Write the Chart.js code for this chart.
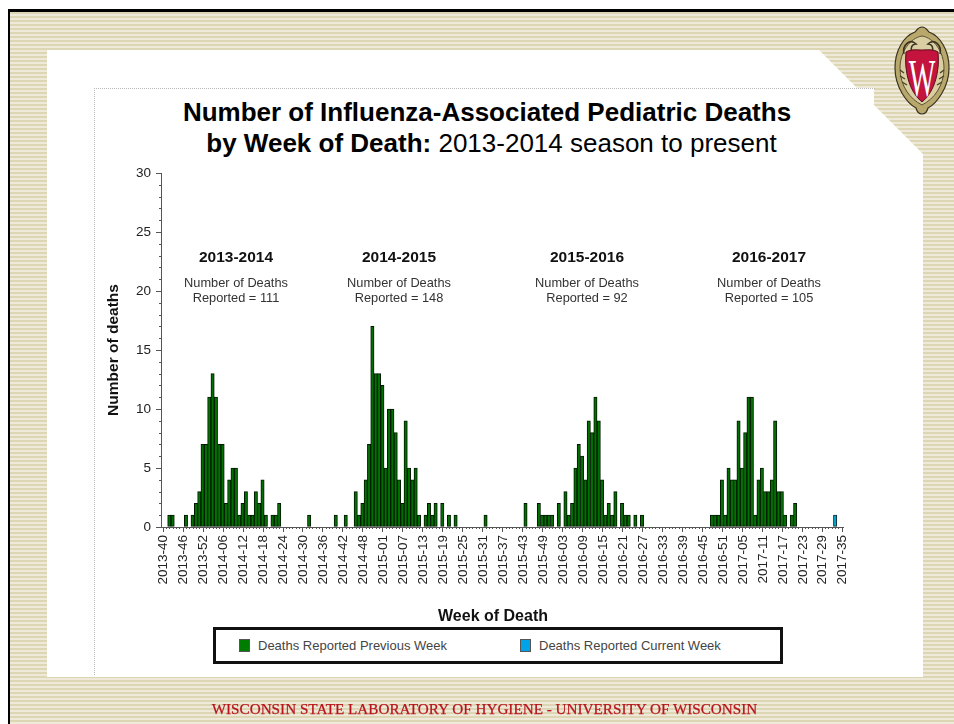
<!DOCTYPE html>
<html>
<head>
<meta charset="utf-8">
<style>
html,body{margin:0;padding:0;background:#fff;}
body{width:954px;height:724px;position:relative;overflow:hidden;font-family:"Liberation Sans",Arial,sans-serif;}
#page{position:absolute;left:0;top:0;width:954px;height:724px;filter:blur(0.4px);}
#slide{position:absolute;left:8px;top:9px;width:946px;height:715px;border-left:2px solid #000;border-top:3px solid #000;box-sizing:border-box;
 background:repeating-linear-gradient(180deg,#dcd6b4 0,#dcd6b4 2px,#eee9d8 2px,#eee9d8 4px);}
#panel{position:absolute;left:47px;top:50px;width:876px;height:627px;background:#fff;
 clip-path:polygon(0 0,772px 0,810px 38px,827px 38px,827px 55px,876px 104px,876px 627px,0 627px);}
#frame{position:absolute;left:94px;top:88px;width:780px;height:586px;border-left:1px dotted #b8b8b8;border-top:1px dotted #b8b8b8;}
#chartBox{position:absolute;left:94px;top:88px;width:772px;height:534px;}
#title{position:absolute;left:94px;top:97px;width:786px;text-align:center;font-size:26px;line-height:31px;color:#000;font-weight:bold;}
#title div{position:relative;left:4.5px;}
#title span{font-weight:normal;}
#legend{position:absolute;left:213px;top:627px;width:570px;height:37px;box-sizing:border-box;border:3px solid #111;background:#fff;font-size:13px;color:#444;}
#legend div{position:absolute;top:8px;white-space:nowrap;line-height:15px;}
#legend i{position:absolute;left:-19px;top:1px;width:11px;height:13px;border:1px solid #555;box-sizing:border-box;}
#footer{position:absolute;left:0;top:700px;width:969px;text-align:center;font-family:"Liberation Serif",serif;font-size:15.2px;line-height:18px;color:#b8121c;-webkit-text-stroke:0.25px #b8121c;}
#logo{position:absolute;left:893px;top:26px;}
</style>
</head>
<body>
<div id="page">
<div id="slide"></div>
<div id="panel"></div>
<div id="frame"></div>
<svg id="logo" width="60" height="90" viewBox="0 0 60 90">
 <path d="M29 1 C33 1 34 4 36 6 C47 10 56 24 56 42 C56 62 43 78 35 82 C34 86 32 88 29 88 C26 88 24 86 23 82 C15 78 2 62 2 42 C2 24 11 10 22 6 C24 4 25 1 29 1Z" fill="#b9a86c" stroke="#3b3320" stroke-width="1.2"/>
 <path d="M29 10 C41 12 51 26 51 42 C51 60 41 73 29 79 C17 73 7 60 7 42 C7 26 17 12 29 10Z" fill="#d9cfa2" stroke="#5b5030" stroke-width="1"/>
 <path d="M11 28 C9 19 17 12 23 18 C19 18 17 22 19 26 M47 28 C49 19 41 12 35 18 C39 18 41 22 39 26" fill="none" stroke="#3b3320" stroke-width="1.6"/>
 <path d="M7 44 L11 47 M7 50 L12 53 M9 56 L14 59 M51 44 L47 47 M51 50 L46 53 M49 56 L44 59" fill="none" stroke="#4a4228" stroke-width="1.4"/>
 <path d="M29 24 C34 24 40 23 45 26 C47 44 42 66 29 76 C16 66 11 44 13 26 C18 23 24 24 29 24Z" fill="#c4133c" stroke="#5b1020" stroke-width="1"/>
 <text transform="translate(29,70) scale(.74,1.4)" text-anchor="middle" font-family="Liberation Serif" font-size="38" fill="#fff">W</text>
</svg>
<div id="title">Number of Influenza-Associated Pediatric Deaths<div>by Week of Death: <span>2013-2014 season to present</span></div></div>
<div id="chartBox"><canvas id="deathsChart" width="772" height="534"></canvas></div>
<div id="legend">
 <div style="left:42px"><i style="background:#007d00"></i>Deaths Reported Previous Week</div>
 <div style="left:323px"><i style="background:#00a2e8"></i>Deaths Reported Current Week</div>
</div>
<div id="footer">WISCONSIN STATE LABORATORY OF HYGIENE - UNIVERSITY OF WISCONSIN</div>
</div>

<script src="https://cdn.jsdelivr.net/npm/chart.js@4"></script>
<script>
const weeks = [
 '2013-40','2013-41','2013-42','2013-43','2013-44','2013-45','2013-46','2013-47','2013-48','2013-49','2013-50','2013-51','2013-52',
 '2014-01','2014-02','2014-03','2014-04','2014-05','2014-06','2014-07','2014-08','2014-09','2014-10','2014-11','2014-12','2014-13','2014-14','2014-15','2014-16','2014-17','2014-18','2014-19','2014-20','2014-21','2014-22','2014-23','2014-24','2014-25','2014-26','2014-27','2014-28','2014-29','2014-30','2014-31','2014-32','2014-33','2014-34','2014-35','2014-36','2014-37','2014-38','2014-39','2014-40','2014-41','2014-42','2014-43','2014-44','2014-45','2014-46','2014-47','2014-48','2014-49','2014-50','2014-51','2014-52','2014-53',
 '2015-01','2015-02','2015-03','2015-04','2015-05','2015-06','2015-07','2015-08','2015-09','2015-10','2015-11','2015-12','2015-13','2015-14','2015-15','2015-16','2015-17','2015-18','2015-19','2015-20','2015-21','2015-22','2015-23','2015-24','2015-25','2015-26','2015-27','2015-28','2015-29','2015-30','2015-31','2015-32','2015-33','2015-34','2015-35','2015-36','2015-37','2015-38','2015-39','2015-40','2015-41','2015-42','2015-43','2015-44','2015-45','2015-46','2015-47','2015-48','2015-49','2015-50','2015-51','2015-52',
 '2016-01','2016-02','2016-03','2016-04','2016-05','2016-06','2016-07','2016-08','2016-09','2016-10','2016-11','2016-12','2016-13','2016-14','2016-15','2016-16','2016-17','2016-18','2016-19','2016-20','2016-21','2016-22','2016-23','2016-24','2016-25','2016-26','2016-27','2016-28','2016-29','2016-30','2016-31','2016-32','2016-33','2016-34','2016-35','2016-36','2016-37','2016-38','2016-39','2016-40','2016-41','2016-42','2016-43','2016-44','2016-45','2016-46','2016-47','2016-48','2016-49','2016-50','2016-51','2016-52',
 '2017-01','2017-02','2017-03','2017-04','2017-05','2017-06','2017-07','2017-08','2017-09','2017-10','2017-11','2017-12','2017-13','2017-14','2017-15','2017-16','2017-17','2017-18','2017-19','2017-20','2017-21','2017-22','2017-23','2017-24','2017-25','2017-26','2017-27','2017-28','2017-29','2017-30','2017-31','2017-32','2017-33','2017-34','2017-35'
];
const tickLabels = ['2013-40','2013-46','2013-52','2014-06','2014-12','2014-18','2014-24','2014-30','2014-36','2014-42','2014-48','2015-01','2015-07','2015-13','2015-19','2015-25','2015-31','2015-37','2015-43','2015-49','2016-03','2016-09','2016-15','2016-21','2016-27','2016-33','2016-39','2016-45','2016-51','2017-05','2017-11','2017-17','2017-23','2017-29','2017-35'];
const previousWeek = [
 0,0,1,1,0,0,0,1,0,1,
 2,3,7,7,11,13,11,7,7,2,
 4,5,5,1,2,3,1,1,3,2,
 4,1,0,1,1,2,0,0,0,0,
 0,0,0,0,1,0,0,0,0,0,
 0,0,1,0,0,1,0,0,3,1,
 2,4,7,17,13,13,12,5,10,10,
 8,4,2,9,5,4,5,1,0,1,
 2,1,2,0,2,0,1,0,1,0,
 0,0,0,0,0,0,0,1,0,0,
 0,0,0,0,0,0,0,0,0,2,
 0,0,0,2,1,1,1,1,0,2,
 0,3,1,2,5,7,6,4,9,8,
 11,9,4,1,2,1,3,0,2,1,
 1,0,1,0,1,0,0,0,0,0,
 0,0,0,0,0,0,0,0,0,0,
 0,0,0,0,0,1,1,1,4,1,
 5,4,4,9,5,8,11,11,1,4,
 5,3,3,4,9,3,3,1,0,1,
 2,0,0,0,0,0,0,0,0,0,
 0,0,0,0,0
];
const currentWeek = weeks.map(w => w === '2017-33' ? 1 : 0);
const yTicks = [0,5,10,15,20,25,30];
const seasons = ['2013-2014','2014-2015','2015-2016','2016-2017'];
const reported = [111,148,92,105];

// season captions, x axis title and the long/short axis ticks
const overlay = {
  id: 'overlay',
  afterDraw(chart) {
    const c = chart.ctx, xs = chart.scales.x, ys = chart.scales.y;
    c.save();
    c.strokeStyle = '#555';
    c.lineWidth = 1;
    c.beginPath();
    xs.ticks.forEach((t, i) => {
      const x = Math.round(xs.getPixelForTick(i)) + 0.5;
      c.moveTo(x, ys.bottom);
      c.lineTo(x, ys.bottom + (tickLabels.includes(weeks[i]) ? 5 : 2));
    });
    ys.ticks.forEach((t, i) => {
      const y = Math.round(ys.getPixelForTick(i)) + 0.5;
      c.moveTo(xs.left, y);
      c.lineTo(xs.left - (yTicks.includes(t.value) ? 5 : 2), y);
    });
    c.stroke();
    const centers = [142, 305, 493, 675];
    c.textAlign = 'center';
    c.textBaseline = 'middle';
    seasons.forEach((s, i) => {
      c.fillStyle = '#111';
      c.font = 'bold 15.5px "Liberation Sans"';
      c.fillText(s, centers[i], 170);
      c.fillStyle = '#333';
      c.font = '12.8px "Liberation Sans"';
      c.fillText('Number of Deaths', centers[i], 195.5);
      c.fillText('Reported = ' + reported[i], centers[i], 210.5);
    });
    c.fillStyle = '#111';
    c.font = 'bold 16px "Liberation Sans"';
    c.fillText('Week of Death', 399, 529);
    c.restore();
  }
};

new Chart(document.getElementById('deathsChart'), {
  type: 'bar',
  data: {
    labels: weeks,
    datasets: [
      { label: 'Deaths Reported Previous Week', data: previousWeek, backgroundColor: '#007000', borderColor: '#001800', borderWidth: 1, borderSkipped: false },
      { label: 'Deaths Reported Current Week', data: currentWeek, backgroundColor: '#00a6c8', borderColor: '#0a3040', borderWidth: 1, borderSkipped: false }
    ]
  },
  plugins: [overlay],
  options: {
    responsive: false,
    animation: false,
    layout: { padding: { top: 85, right: 21.7, left: 0, bottom: 0 } },
    datasets: { bar: { barPercentage: 1, categoryPercentage: 1 } },
    plugins: { legend: { display: false }, tooltip: { enabled: false } },
    scales: {
      x: {
        stacked: true,
        afterFit(s) { s.height = 95; },
        grid: { drawOnChartArea: false, drawTicks: false },
        border: { color: '#555' },
        ticks: {
          autoSkip: false, maxRotation: 90, minRotation: 90, padding: 8, labelOffset: 1,
          color: '#222', font: { size: 13.5, family: '"Liberation Sans"' },
          callback(v) { const l = this.getLabelForValue(v); return tickLabels.includes(l) ? l : ''; }
        }
      },
      y: {
        stacked: true,
        min: 0, max: 30,
        afterFit(s) { s.width = 67; },
        grid: { drawOnChartArea: false, drawTicks: false },
        border: { color: '#555' },
        ticks: {
          stepSize: 1, autoSkip: false, padding: 10,
          color: '#222', font: { size: 13.5, family: '"Liberation Sans"' },
          callback(v) { return yTicks.includes(v) ? v : ''; }
        },
        title: { display: true, text: 'Number of deaths', color: '#111', font: { size: 15.5, weight: 'bold', family: '"Liberation Sans"' }, padding: { top: 10, bottom: 0 } }
      }
    }
  }
});
</script>
</body>
</html>
